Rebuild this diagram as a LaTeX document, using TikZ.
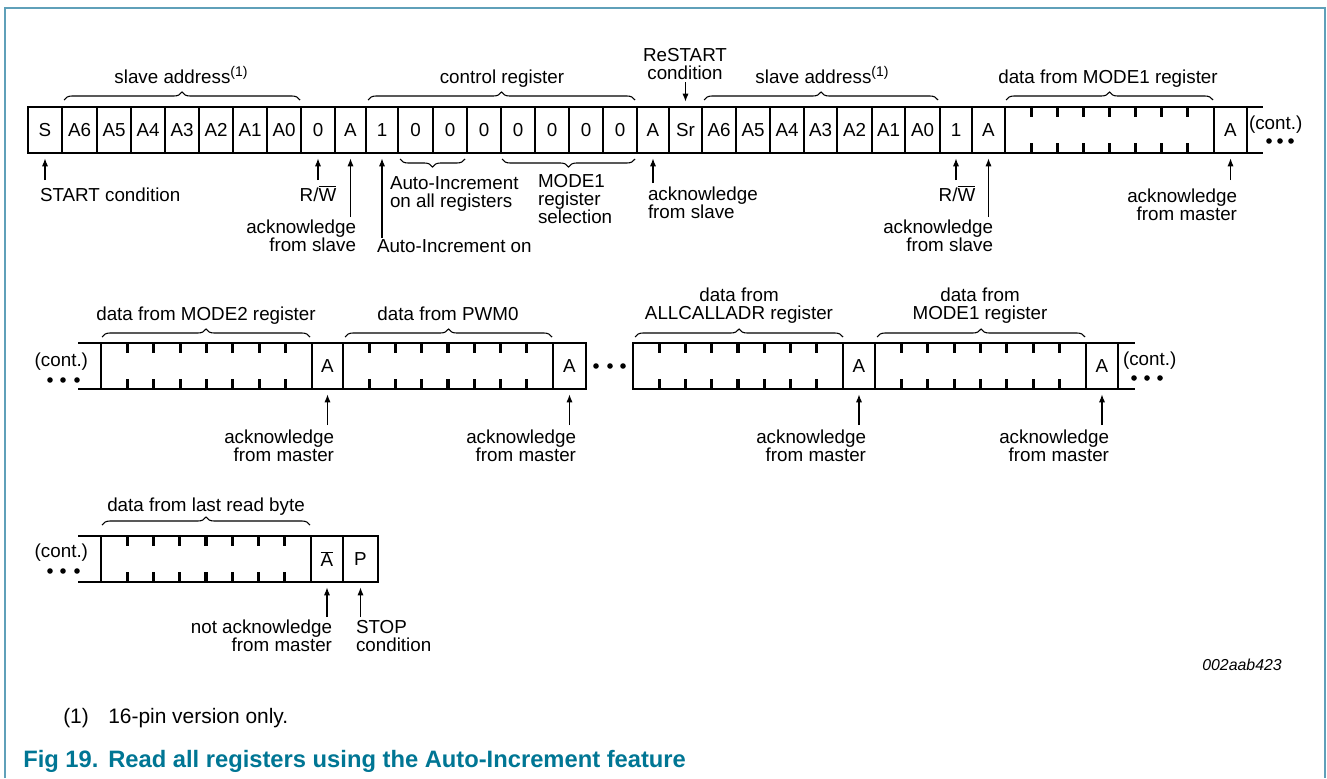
\documentclass[tikz,border=0pt]{standalone}
\usepackage{fontspec}
\setmainfont{Liberation Sans}
\usetikzlibrary{calc,arrows.meta,decorations.pathreplacing}
\definecolor{capteal}{RGB}{0,118,148}
\definecolor{frameteal}{RGB}{95,160,185}
\newcommand{\mydfont}{\fontsize{14.1}{13.5}\selectfont}
\newcommand{\mysupone}{\raisebox{5pt}{\fontsize{10.5}{12}\selectfont (1)}}
\newcommand{\mycell}[6]{%
  \pgfmathsetmacro{\mycw}{(#3-#2)*0.75}%
  \pgfmathsetmacro{\mych}{(#5-#4)*0.75}%
  \node[cellbox, minimum width=\mycw pt, minimum height=\mych pt] (#1) at ({(#2+#3)/2},{(#4+#5)/2}) {#6};%
}
\newcommand{\mydata}[5]{%
  \mycell{#1}{#2}{#3}{#4}{#5}{}%
  \foreach \k in {1,...,7}{%
    \draw[tickline] ($(#1.north west)!\k/8!(#1.north east)$) -- ++(0,10);
    \draw[tickline] ($(#1.south west)!\k/8!(#1.south east)$) -- ++(0,-10);
  }%
}
\begin{document}
\begin{tikzpicture}[x=0.75pt,y=-0.75pt,
  cellbox/.style={draw, line width=2.1pt, inner sep=0pt, outer sep=0pt, font=\mydfont},
  boxline/.style={line width=2.1pt},
  tickline/.style={line width=2.3pt},
  lbl/.style={inner sep=0pt, outer sep=0pt, font=\mydfont},
  arr/.style={line width=0.8pt, -{Latex[length=6pt,width=4.6pt]}, shorten >=4pt},
  brc/.style={decorate, decoration={brace, amplitude=6pt}, line width=0.8pt},
  brcd/.style={decorate, decoration={brace, mirror, amplitude=6pt}, line width=0.8pt}
]
\useasboundingbox (0,0) rectangle (1327,778);
% frame
\draw[frameteal, line width=1.6pt] (5,778) -- (5,8) -- (1325,8) -- (1325,778);

%================ ROW 1 ================
\mycell{s}{28}{62}{107}{153}{S}
\mycell{a6}{62}{97}{107}{153}{A6}
\mycell{a5}{97}{131}{107}{153}{A5}
\mycell{a4}{131}{165}{107}{153}{A4}
\mycell{a3}{165}{199}{107}{153}{A3}
\mycell{a2}{199}{233}{107}{153}{A2}
\mycell{a1}{233}{267}{107}{153}{A1}
\mycell{a0}{267}{301}{107}{153}{A0}
\mycell{rw}{301}{335}{107}{153}{0}
\mycell{ack}{335}{366}{107}{153}{A}
\mycell{c7}{366}{398}{107}{153}{1}
\mycell{c6}{398}{433}{107}{153}{0}
\mycell{c5}{433}{467}{107}{153}{0}
\mycell{c4}{467}{501}{107}{153}{0}
\mycell{c3}{501}{535}{107}{153}{0}
\mycell{c2}{535}{569}{107}{153}{0}
\mycell{c1}{569}{603}{107}{153}{0}
\mycell{c0}{603}{637}{107}{153}{0}
\mycell{ackb}{637}{669}{107}{153}{A}
\mycell{sr}{669}{702}{107}{153}{Sr}
\mycell{b6}{702}{736}{107}{153}{A6}
\mycell{b5}{736}{770}{107}{153}{A5}
\mycell{b4}{770}{804}{107}{153}{A4}
\mycell{b3}{804}{837}{107}{153}{A3}
\mycell{b2}{837}{872}{107}{153}{A2}
\mycell{b1}{872}{905}{107}{153}{A1}
\mycell{b0}{905}{940}{107}{153}{A0}
\mycell{rwb}{940}{972}{107}{153}{1}
\mycell{ackc}{972}{1005}{107}{153}{A}
\mydata{d1}{1005}{1214}{107}{153}
\mycell{am1}{1214}{1247}{107}{153}{A}
\coordinate (e1t) at (1263,107);
\coordinate (e1b) at (1263,153);
\draw[boxline] (am1.north east) -- (e1t);
\draw[boxline] (am1.south east) -- (e1b);
\node[lbl, anchor=west] (cont1) at (1249,125) {(cont.)};
\fill (1269,141) circle (2.1pt) (1280,141) circle (2.1pt) (1291,141) circle (2.1pt);

% braces above row 1
\draw[brc] (64,100) -- (300,100);
\draw[brc] (368,100) -- (635,100);
\draw[brc] (704,100) -- (938,100);
\draw[brc] (1006,100) -- (1213,100);
\node[lbl, anchor=base] (lsa1) at (181,83) {slave address\mysupone};
\node[lbl, anchor=base] (lcr) at (502,83) {control register};
\node[lbl, anchor=north, align=center] (lrs) at (685,48) {ReSTART\\condition};
\node[lbl, anchor=base] (lsa2) at (822,83) {slave address\mysupone};
\node[lbl, anchor=base] (ldm1) at (1108,83) {data from MODE1 register};
\coordinate (tRS) at (sr.north |- 0,82);
\draw[arr] (tRS) -- (sr);

% under braces row 1
\draw[brcd] (400,159) -- (465,159);
\draw[brcd] (502,159) -- (635,159);

% labels below row 1
\node[lbl, anchor=base west] (lstart) at (40,201) {START condition};
\node[lbl, anchor=base] (lrw1) at (318,201) {R/$\overline{\mbox{W}}$};
\node[lbl, anchor=north east, align=right] (lack1) at (356,220) {acknowledge\\from slave};
\node[lbl, anchor=base west] (laion) at (377,252) {Auto-Increment on};
\node[lbl, anchor=north west, align=left] (laiall) at (390,177) {Auto-Increment\\on all registers};
\node[lbl, anchor=north west, align=left] (lmode) at (538,174) {MODE1\\register\\selection};
\node[lbl, anchor=north west, align=left] (lack2) at (648,187) {acknowledge\\from slave};
\node[lbl, anchor=base] (lrw2) at (957,201) {R/$\overline{\mbox{W}}$};
\node[lbl, anchor=north east, align=right] (lack3) at (993,220) {acknowledge\\from slave};
\node[lbl, anchor=north east, align=right] (lackm1) at (1237,189) {acknowledge\\from master};

\coordinate (tS) at (s.south |- 0,180);
\coordinate (tRW) at (rw.south |- 0,180);
\coordinate (tAck) at (ack.south |- 0,217);
\coordinate (tAI) at (c7.south |- 0,238);
\coordinate (tAckb) at (ackb.south |- 0,183);
\coordinate (tRWb) at (rwb.south |- 0,180);
\coordinate (tAckc) at (ackc.south |- 0,217);
\coordinate (tAm1) at (am1.south |- 0,180);
\draw[arr] (tS) -- (s);
\draw[arr] (tRW) -- (rw);
\draw[arr] (tAck) -- (ack);
\draw[arr] (tAI) -- (c7);
\draw[arr] (tAckb) -- (ackb);
\draw[arr] (tRWb) -- (rwb);
\draw[arr] (tAckc) -- (ackc);
\draw[arr] (tAm1) -- (am1);

%================ ROW 2 ================
\mydata{d2}{101}{312}{343}{389}
\mycell{m2}{312}{343}{343}{389}{A}
\mydata{d3}{343}{553}{343}{389}
\mycell{m3}{553}{586}{343}{389}{A}
\fill (596,366) circle (2.1pt) (610,366) circle (2.1pt) (623,366) circle (2.1pt);
\mydata{d4}{633}{843}{343}{389}
\mycell{m4}{843}{875}{343}{389}{A}
\mydata{d5}{875}{1086}{343}{389}
\mycell{m5}{1086}{1118}{343}{389}{A}
\coordinate (s2t) at (78,343);
\coordinate (s2b) at (78,389);
\draw[boxline] (s2t) -- (d2.north west);
\draw[boxline] (s2b) -- (d2.south west);
\coordinate (e2t) at (1135,343);
\coordinate (e2b) at (1135,389);
\draw[boxline] (m5.north east) -- (e2t);
\draw[boxline] (m5.south east) -- (e2b);
\node[lbl, anchor=east] (cont2) at (88,362) {(cont.)};
\fill (50,380) circle (2.1pt) (63,380) circle (2.1pt) (77,380) circle (2.1pt);
\node[lbl, anchor=west] (cont3) at (1123,361) {(cont.)};
\fill (1134,378) circle (2.1pt) (1147,378) circle (2.1pt) (1160,378) circle (2.1pt);

\draw[brc] (102,337) -- (310,337);
\draw[brc] (345,337) -- (552,337);
\draw[brc] (635,337) -- (843,337);
\draw[brc] (877,337) -- (1085,337);
\node[lbl, anchor=base] (ldm2) at (206,320) {data from MODE2 register};
\node[lbl, anchor=base] (ldp0) at (448,320) {data from PWM0};
\node[lbl, anchor=north, align=center] (ldall) at (739,288) {data from\\ALLCALLADR register};
\node[lbl, anchor=north, align=center] (ldm1b) at (980,288) {data from\\MODE1 register};

\node[lbl, anchor=north east, align=right] (lam2) at (334,430) {acknowledge\\from master};
\node[lbl, anchor=north east, align=right] (lam3) at (576,430) {acknowledge\\from master};
\node[lbl, anchor=north east, align=right] (lam4) at (866,430) {acknowledge\\from master};
\node[lbl, anchor=north east, align=right] (lam5) at (1109,430) {acknowledge\\from master};
\coordinate (tm2) at (m2.south |- 0,425);
\coordinate (tm3) at (m3.south |- 0,425);
\coordinate (tm4) at (m4.south |- 0,425);
\coordinate (tm5) at (m5.south |- 0,425);
\draw[arr] (tm2) -- (m2);
\draw[arr] (tm3) -- (m3);
\draw[arr] (tm4) -- (m4);
\draw[arr] (tm5) -- (m5);

%================ ROW 3 ================
\mydata{d6}{101}{311}{536}{582}
\mycell{na}{311}{343}{536}{582}{$\overline{\mbox{A}}$}
\mycell{p}{343}{378}{536}{582}{P}
\coordinate (s3t) at (78,536);
\coordinate (s3b) at (78,582);
\draw[boxline] (s3t) -- (d6.north west);
\draw[boxline] (s3b) -- (d6.south west);
\node[lbl, anchor=east] (cont4) at (88,553) {(cont.)};
\fill (50,571) circle (2.1pt) (63,571) circle (2.1pt) (77,571) circle (2.1pt);
\draw[brc] (102,525) -- (310,525);
\node[lbl, anchor=base] (ldlast) at (206,511) {data from last read byte};
\node[lbl, anchor=north east, align=right] (lnack) at (332,620) {not acknowledge\\from master};
\node[lbl, anchor=north west, align=left] (lstop) at (356,620) {STOP\\condition};
\coordinate (tna) at (na.south |- 0,617);
\coordinate (tp) at (p.south |- 0,617);
\draw[arr] (tna) -- (na);
\draw[arr] (tp) -- (p);

%================ footer ================
\node[inner sep=0pt, anchor=base east, font=\fontsize{11.9}{13}\selectfont\itshape] (fid) at (1282,670) {002aab423};
\node[inner sep=0pt, anchor=base west, font=\fontsize{15.7}{17}\selectfont] (fn1) at (63,723) {(1)};
\node[inner sep=0pt, anchor=base west, font=\fontsize{15.7}{17}\selectfont] (fn2) at (108,723) {16-pin version only.};
\node[inner sep=0pt, anchor=base west, font=\fontsize{17.8}{20}\selectfont\bfseries, text=capteal] (cap1) at (23,767) {Fig 19.};
\node[inner sep=0pt, anchor=base west, font=\fontsize{17.8}{20}\selectfont\bfseries, text=capteal] (cap2) at (108,767) {Read all registers using the Auto-Increment feature};
\end{tikzpicture}
\end{document}
